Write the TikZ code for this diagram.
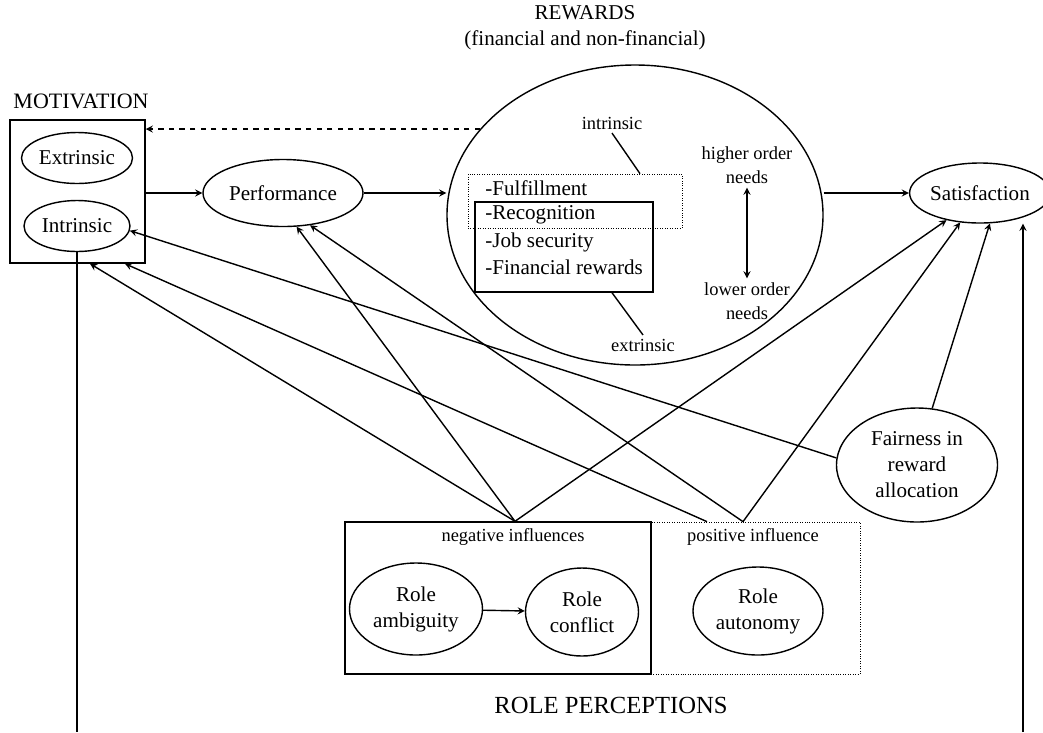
\documentclass[tikz,border=0pt]{standalone}
\usepackage{fontspec}
\setmainfont{Liberation Serif}
\usetikzlibrary{shapes.geometric}
\newcommand{\txtbig}{\fontsize{12}{14.8}\selectfont}
\newcommand{\txtsmall}{\fontsize{10.5}{14}\selectfont}
\newcommand{\txthuge}{\fontsize{14}{16}\selectfont}

\begin{document}
\begin{tikzpicture}[x=0.2mm, y=-0.2mm]
	\tikzstyle{oval} = [ellipse, draw, thick, inner sep=0pt, align=center, font=\txtbig]
	\tikzstyle{box} = [rectangle, draw, thick, inner sep=0pt]
	\tikzstyle{dotbox} = [rectangle, draw, densely dotted, inner sep=0pt]
	\tikzstyle{label_s} = [font=\txtsmall, align=center, inner sep=2pt]
	\tikzstyle{title} = [font=\txtbig, align=center]
	\tikzstyle{edge} = [thick, ->, >=stealth]
	\tikzstyle{plain} = [thick]

	\useasboundingbox (0,0) rectangle (1043,732);

	% motivation
	\node[title, font=\fontsize{12.5}{15}\selectfont] (motlabel) at (81,101) {MOTIVATION};
	\node[box, minimum width=27mm, minimum height=28.6mm] (motiv) at (77.5,191.5) {};
	\foreach \name/\y/\w/\lbl in {ext/158/22.2mm/Extrinsic, int/226/21.2mm/Intrinsic}
		\node[oval, minimum width=\w, minimum height=10.2mm] (\name) at (77,\y) {\lbl};

	% performance and satisfaction
	\node[oval, minimum width=32mm, minimum height=13.4mm] (perf) at (283,193) {Performance};
	\node[oval, minimum width=24.8mm, minimum height=12mm] (sat) at (980,193) {Satisfaction};

	% rewards
	\node[title] (rewlabel) at (585,28) {REWARDS\\(financial and non-financial)};
	\node[oval, minimum width=75.2mm, minimum height=60mm] (rew) at (635,215) {};
	\node[dotbox, minimum width=42.8mm, minimum height=10.8mm] (intbox) at (575,201) {};
	\node[box, minimum width=35.6mm, minimum height=18mm] (extbox) at (564,247) {};
	\foreach \name/\y/\lbl in {fulfil/188/-Fulfillment, recog/215/-Recognition, jobsec/242/-Job security, finrew/267/-Financial rewards}
		\node[font=\txtbig, anchor=west, inner sep=0pt] (\name) at (485,\y) {\lbl};

	\node[label_s] (lblint) at (612,123) {intrinsic};
	\node[label_s] (lblext) at (643,345) {extrinsic};
	\draw[plain] (lblint.south) -- ([xshift=13mm]intbox.north);
	\draw[plain] ([xshift=9.6mm]extbox.south) -- (lblext.north);
	\node[label_s] (higher) at (747,165) {higher order\\needs};
	\node[label_s] (lower) at (747,301) {lower order\\needs};
	\draw[edge, <->] (higher) -- (lower);

	% role perceptions
	\node[dotbox, minimum width=41.8mm, minimum height=30.4mm] (pos) at (755.5,598) {};
	\node[box, minimum width=61.2mm, minimum height=30.4mm] (neg) at (498,598) {};
	\node[label_s] (neglabel) at (513,537) {negative influences};
	\node[label_s] (poslabel) at (753,537) {positive influence};
	\foreach \name/\x/\y/\w/\h/\lbl in {amb/416/609/26.6mm/18.4mm/{Role\\ambiguity}, conf/582/612/22.6mm/17.6mm/{Role\\conflict}, aut/758/611/26mm/17.6mm/{Role\\autonomy}}
		\node[oval, minimum width=\w, minimum height=\h] (\name) at (\x,\y) {\lbl};
	\draw[edge] (amb) -- (conf);
	\node[title, font=\txthuge] (rolelabel) at (611,705) {ROLE PERCEPTIONS};

	\node[oval, minimum width=32.2mm, minimum height=22.8mm] (fair) at (917,465) {Fairness in\\reward\\allocation};

	% main flow
	\draw[edge] (motiv.east |- perf) -- (perf.west);
	\draw[edge] (perf.east) -- (perf.east -| rew.west);
	\draw[edge] (rew.east |- sat.west) -- (sat.west);
	\draw[edge, dashed] (rew.151) -- (rew.151 -| motiv.east);

	% influences
	\coordinate (negtop) at ([xshift=3.4mm]neg.north);
	\coordinate (postop_a) at ([xshift=-9.7mm]pos.north);
	\coordinate (postop_b) at ([xshift=-2.5mm]pos.north);
	\draw[edge] (negtop) -- ([xshift=2.5mm]motiv.south);
	\draw[edge] (postop_a) -- ([xshift=9.5mm]motiv.south);
	\foreach \from/\to in {negtop/perf.-68, negtop/sat.-141, postop_b/perf.-50, postop_b/sat.-124, fair.75/sat.-72, fair.175/int.-5}
		\draw[edge] (\from) -- (\to);

	% feedback loop
	\coordinate (fbout) at (77,732);
	\coordinate (fbin) at (1023,732);
	\draw[plain] (int.south) -- (fbout);
	\draw[edge] (fbin) -- (fbin |- sat.south);

\end{tikzpicture}
\end{document}
